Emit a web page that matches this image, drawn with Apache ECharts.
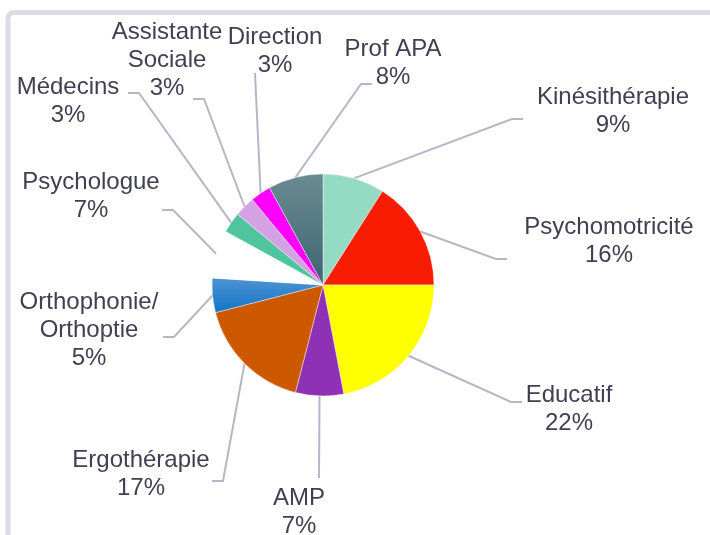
<!DOCTYPE html>
<html>
<head>
<meta charset="utf-8">
<script src="https://cdn.jsdelivr.net/npm/echarts@6/dist/echarts.min.js"></script>
<style>
  html, body { margin: 0; padding: 0; background: #fff; }
  #chart { width: 710px; height: 535px; }
</style>
</head>
<body>
<div id="chart"></div>
<script>
// data (percent of staff)
const categories = ['Kinésithérapie', 'Psychomotricité', 'Educatif', 'AMP', 'Ergothérapie',
  'Orthophonie/\nOrthoptie', 'Psychologue', 'Médecins', 'Assistante\nSociale', 'Direction', 'Prof APA']
const shares = [9, 16, 22, 7, 17, 5, 7, 3, 3, 3, 8]

// label placement (Excel puts them by hand, ECharts can't do the same)
const labelPos = [[613, 111], [609, 241], [569, 409], [299, 512], [141, 474],
  [89, 330], [91, 196], [68, 101], [167, 60], [275, 51], [393, 63]]
const lineEnd = [[523, 119], [507, 259], [522, 402], [319, 478], [212, 481],
  [163, 337], [162, 210], [128, 93], [193, 99], [255, 73], [372, 84]]

const grad = (top, bottom) => new echarts.graphic.LinearGradient(0, 0, 0, 1, [
  { offset: 0, color: top }, { offset: 1, color: bottom }
])
const colors = ['#95dbc4', '#f71c02', '#ffff00', '#8e31b4', '#cc5800',
  grad('#4f93d3', '#1175c6'), '#ffffff', '#4fc49d', '#d4a1e2', '#ff00ff', grad('#6a8b93', '#3f6470')]

const chart = echarts.init(document.getElementById('chart'))

chart.setOption({
  animation: false,
  backgroundColor: '#ffffff',
  graphic: [{
    type: 'rect',
    z: -10,
    shape: { x: 8, y: 12.5, width: 800, height: 600, r: 6 },
    style: { fill: '#ffffff', stroke: '#dcdce6', lineWidth: 5 }
  }],
  series: [{
    type: 'pie',
    center: [323, 285],
    radius: 111,
    startAngle: 90,
    clockwise: true,
    avoidLabelOverlap: false,
    silent: true,
    itemStyle: { borderColor: 'rgba(255,255,255,0.7)', borderWidth: 0.6 },
    label: {
      show: true,
      formatter: '{b}\n{c}%',
      fontFamily: 'Liberation Sans, Arial, sans-serif',
      fontSize: 24,
      lineHeight: 28,
      color: '#404052',
      align: 'center'
    },
    labelLine: {
      show: true,
      length: 20,
      length2: 10,
      lineStyle: { color: '#b6b6c8', width: 2 }
    },
    labelLayout: (params) => {
      const i = params.dataIndex
      const start = params.labelLinePoints[0]
      const end = lineEnd[i]
      let pts
      if (Math.abs(end[0] - start[0]) < 10) {
        pts = [start, end]
      } else {
        const elbowX = end[0] > start[0] ? end[0] - 11 : end[0] + 11
        pts = [start, [elbowX, end[1]], end]
      }
      return {
        x: labelPos[i][0],
        y: labelPos[i][1],
        align: 'center',
        verticalAlign: 'middle',
        labelLinePoints: pts
      }
    },
    data: categories.map((name, i) => ({
      name: name,
      value: shares[i],
      itemStyle: { color: colors[i] }
    }))
  }]
})
</script>
</body>
</html>
